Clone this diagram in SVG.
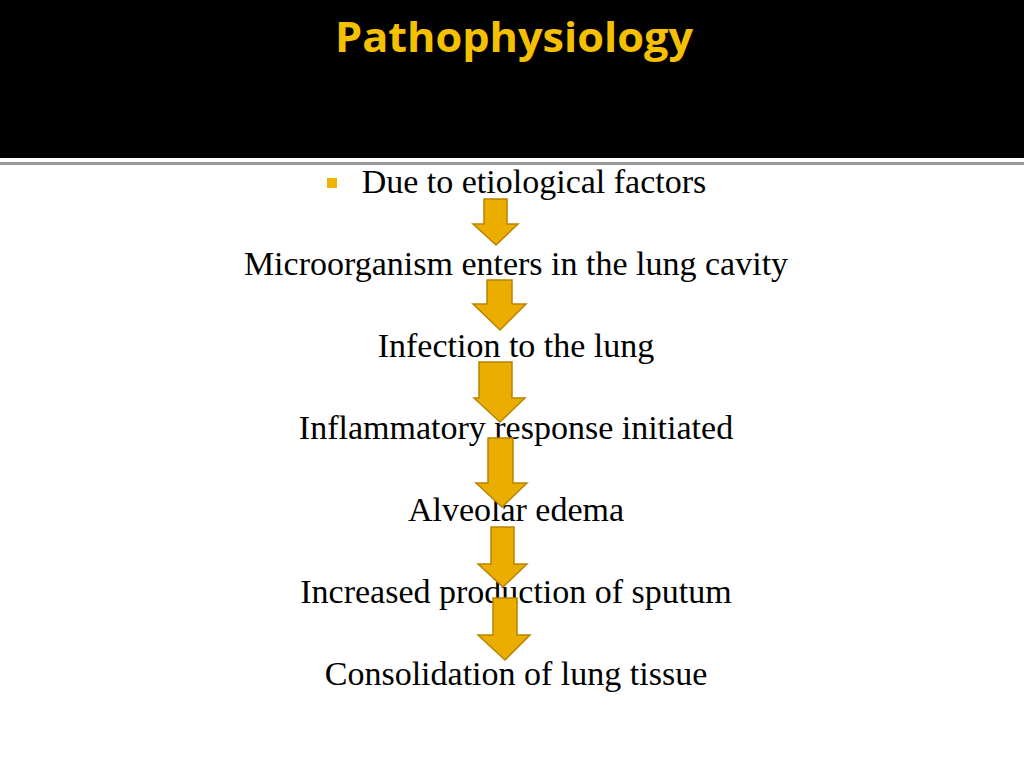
<svg xmlns="http://www.w3.org/2000/svg" width="1024" height="768" viewBox="0 0 1024 768">
<style>
.t{font-family:"Liberation Serif",serif;font-size:34px;fill:#000;text-anchor:middle}
.a{fill:#EBAE00;stroke:#B88400;stroke-width:1.5;stroke-linejoin:miter}
</style>
<rect width="1024" height="768" fill="#fff"/>
<g id="header">
<rect x="0" y="0" width="1024" height="158" fill="#000"/>
<rect x="0" y="162" width="1024" height="3" fill="#9a9a9a"/>
<text x="514" y="52" font-family="'Open Sans','Liberation Sans',sans-serif" font-weight="bold" font-size="42" fill="#F5C000" text-anchor="middle" textLength="358" lengthAdjust="spacingAndGlyphs">Pathophysiology</text>
</g>
<g id="n1"><rect x="327" y="178" width="10" height="10" fill="#F0B400"/><text class="t" x="534" y="193">Due to etiological factors</text></g>
<g id="n2"><text class="t" x="516" y="275">Microorganism enters in the lung cavity</text></g>
<g id="n3"><text class="t" x="516" y="357">Infection to the lung</text></g>
<g id="n4"><text class="t" x="516" y="439">Inflammatory response initiated</text></g>
<g id="n5"><text class="t" x="516" y="521">Alveolar edema</text></g>
<g id="n6"><text class="t" x="516" y="603">Increased production of sputum</text></g>
<g id="n7"><text class="t" x="516" y="685">Consolidation of lung tissue</text></g>
<g id="connectors">
<path class="a" d="M484 199H507V224H518L496 245L473 224H484Z"/>
<path class="a" d="M487 280H512V304H526L500 330L473 304H487Z"/>
<path class="a" d="M479 362H512V398H525L500 422L474 398H479Z"/>
<path class="a" d="M488 438H513V483H527L502 507L476 483H488Z"/>
<path class="a" d="M491 527H514V564H527L503 587L478 564H491Z"/>
<path class="a" d="M493 598H517V635H530L505 660L478 635H493Z"/>
</g>
</svg>
